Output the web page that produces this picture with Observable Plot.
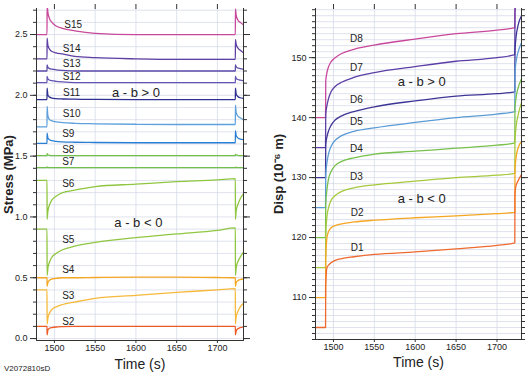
<!DOCTYPE html>
<html><head><meta charset="utf-8">
<script src="https://cdn.jsdelivr.net/npm/d3@7"></script>
<script src="https://cdn.jsdelivr.net/npm/@observablehq/plot@0.6"></script>
<style>
body{margin:0;background:#fff;}
#wrap{position:relative;width:531px;height:375px;font-family:"Liberation Sans",Arial,sans-serif;overflow:hidden;}
#left{position:absolute;left:0;top:0;}
#right{position:absolute;left:270px;top:0;}
#cap{position:absolute;left:4px;top:364px;font-size:8px;color:#222;}
</style></head><body>
<div id="wrap"><div id="left"></div><div id="right"></div><div id="cap">V2072810sD</div></div>
<script>
// ---------- data: stress panel ----------
const stressTime = [1478, 1490.9, 1491, 1492, 1494, 1497, 1502, 1510, 1525, 1550, 1600, 1650, 1700, 1722, 1722.1, 1723, 1725, 1728, 1732];
const S15 = [2.5, 2.5, 2.74, 2.68, 2.63, 2.6, 2.57, 2.55, 2.53, 2.51, 2.5, 2.5, 2.5, 2.5, 2.71, 2.66, 2.62, 2.6, 2.58];
const S14 = [2.3, 2.3, 2.47, 2.41, 2.38, 2.36, 2.35, 2.34, 2.32, 2.31, 2.3, 2.295, 2.295, 2.295, 2.46, 2.42, 2.39, 2.37, 2.35];
const S13 = [2.2, 2.2, 2.25, 2.23, 2.22, 2.215, 2.21, 2.205, 2.2, 2.2, 2.2, 2.2, 2.2, 2.2, 2.25, 2.235, 2.225, 2.22, 2.215];
const S12 = [2.105, 2.105, 2.155, 2.135, 2.125, 2.12, 2.115, 2.11, 2.105, 2.105, 2.105, 2.105, 2.105, 2.105, 2.155, 2.14, 2.13, 2.125, 2.12];
const S11 = [1.965, 1.965, 2.06, 2.0, 1.985, 1.978, 1.973, 1.97, 1.968, 1.966, 1.965, 1.965, 1.965, 1.965, 2.06, 2.01, 1.99, 1.98, 1.975];
const S10 = [1.74, 1.74, 1.91, 1.83, 1.8, 1.79, 1.782, 1.776, 1.77, 1.766, 1.762, 1.76, 1.76, 1.76, 1.92, 1.86, 1.83, 1.815, 1.8];
const S9  = [1.605, 1.605, 1.69, 1.65, 1.635, 1.627, 1.621, 1.617, 1.614, 1.612, 1.61, 1.61, 1.61, 1.61, 1.71, 1.67, 1.65, 1.64, 1.635];
const S8  = [1.505, 1.505, 1.52, 1.51, 1.507, 1.505, 1.505, 1.505, 1.505, 1.505, 1.505, 1.505, 1.505, 1.505, 1.515, 1.51, 1.507, 1.505, 1.505];
const S7  = [1.405, 1.405, 1.412, 1.407, 1.405, 1.405, 1.405, 1.405, 1.405, 1.405, 1.405, 1.405, 1.405, 1.405, 1.41, 1.407, 1.405, 1.405, 1.405];
const S6  = [1.3, 1.3, 0.98, 1.05, 1.1, 1.14, 1.17, 1.2, 1.22, 1.25, 1.27, 1.29, 1.305, 1.315, 0.98, 1.05, 1.1, 1.15, 1.19];
const S5  = [0.9, 0.9, 0.52, 0.58, 0.63, 0.67, 0.7, 0.73, 0.76, 0.79, 0.83, 0.86, 0.89, 0.91, 0.52, 0.58, 0.63, 0.67, 0.71];
const S4  = [0.5, 0.5, 0.43, 0.46, 0.48, 0.49, 0.495, 0.5, 0.5, 0.502, 0.505, 0.505, 0.502, 0.5, 0.43, 0.46, 0.475, 0.485, 0.49];
const S3  = [0.4, 0.4, 0.12, 0.17, 0.21, 0.24, 0.26, 0.28, 0.3, 0.33, 0.355, 0.38, 0.4, 0.41, 0.12, 0.18, 0.22, 0.26, 0.29];
const S2  = [0.1, 0.1, 0.03, 0.07, 0.085, 0.09, 0.095, 0.098, 0.1, 0.1, 0.1, 0.1, 0.1, 0.1, 0.03, 0.06, 0.08, 0.09, 0.095];
const stressNames  = ["S15","S14","S13","S12","S11","S10","S9","S8","S7","S6","S5","S4","S3","S2"];
const stressSeries = [S15, S14, S13, S12, S11, S10, S9, S8, S7, S6, S5, S4, S3, S2];
const stressColors = ["#c8489b","#5e3fa3","#5b4aa8","#6656b3","#2f3090","#5ea0dc","#2a7fd4","#72bf4c","#72bf4c","#8fc640","#8fc640","#f5a623","#f6b93b","#ee5a24"];
const stressLabelTime  = [1523, 1521, 1521, 1521, 1521, 1521, 1517, 1517, 1517, 1517, 1517, 1517, 1517, 1517];
const stressLabelValue = [2.58, 2.38, 2.26, 2.15, 2.02, 1.85, 1.68, 1.555, 1.455, 1.275, 0.81, 0.567, 0.354, 0.14];
const stressNotes = ["a - b > 0", "a - b < 0"];
const stressNoteTime = [1600, 1603];
const stressNoteValue = [2.02, 0.95];
const stressMajor = [0, 0.5, 1, 1.5, 2, 2.5];
const stressMinor = [0,0.1,0.2,0.3,0.4,0.5,0.6,0.7,0.8,0.9,1,1.1,1.2,1.3,1.4,1.5,1.6,1.7,1.8,1.9,2,2.1,2.2,2.3,2.4,2.5,2.6,2.7];

// ---------- data: displacement panel ----------
const dispTime = [1478, 1490.3, 1490.5, 1492, 1494, 1497, 1502, 1510, 1525, 1550, 1600, 1650, 1700, 1721.8, 1722, 1723, 1726, 1730];
const D8 = [140, 140, 146, 147.5, 148.5, 149.3, 150, 150.7, 151.4, 152.1, 153.1, 154, 154.6, 155, 158.5, 160, 162, 164];
const D7 = [135, 135, 140.5, 142, 143.2, 144.3, 145.2, 145.9, 146.7, 147.5, 148.5, 149.4, 150, 150.5, 157.5, 159, 161, 163];
const D6 = [130, 130, 135.5, 136.8, 137.8, 138.7, 139.6, 140.3, 141, 141.8, 142.8, 143.6, 144, 144.3, 151, 153, 155.5, 157];
const D5 = [125, 125, 130.5, 132.5, 134, 135.2, 136.2, 137, 137.7, 138.3, 139.2, 140, 140.6, 141, 147, 149, 151, 152.5];
const D4 = [120, 120, 125.5, 128, 129.8, 131, 132, 132.7, 133.3, 133.9, 134.4, 134.9, 135.4, 135.8, 141.5, 143, 145, 146.5];
const D3 = [115, 115, 120.5, 123.5, 125, 126.2, 127, 127.7, 128.3, 128.8, 129.4, 130, 130.4, 130.7, 136, 138, 140.5, 142.5];
const D2 = [110, 110, 116, 120, 121, 121.6, 122, 122.3, 122.6, 122.9, 123.3, 123.6, 124, 124.2, 131, 133, 135, 136];
const D1 = [105, 105, 112, 115, 115.4, 115.8, 116.2, 116.5, 116.8, 117.2, 117.6, 118.1, 118.7, 119.1, 127, 128.5, 129.5, 130.5];
const dispNames  = ["D8","D7","D6","D5","D4","D3","D2","D1"];
const dispSeries = [D8, D7, D6, D5, D4, D3, D2, D1];
const dispColors = ["#c8489b","#5b3fa6","#3d3596","#5b9bd5","#78c04c","#a6c93c","#f5a623","#ef6a2e"];
const dispLabelTime  = [1528, 1528, 1528, 1528, 1528, 1528, 1529, 1529];
const dispLabelValue = [153.2, 148.3, 143, 139.3, 134.8, 130.2, 124.2, 118.3];
const dispNotes = ["a - b > 0", "a - b < 0"];
const dispNoteTime = [1608, 1608];
const dispNoteValue = [146, 126.5];
const dispMajor = [110, 120, 130, 140, 150];
const dispMinor = d3.range(103, 159);

const timeTicks = [1500, 1550, 1600, 1650, 1700];

// ---------- styling ----------
const FONT = '"Liberation Sans", Arial, sans-serif';
const GRID = "#d3d7e6";
const AX = "#333";

function sideAxes(major, minor, fmt) {
  return [
    Plot.axisX(timeTicks, {anchor: "bottom", tickSize: 3, tickPadding: 1, tickFormat: "d", label: null, stroke: AX, fill: "#222"}),
    Plot.axisX(timeTicks, {anchor: "top", tickSize: 5, fill: "none", label: null, stroke: AX}),
    Plot.axisY(major, {anchor: "left", tickSize: 6, tickPadding: 3, tickFormat: fmt, label: null, stroke: AX, fill: "#222"}),
    Plot.axisY(minor, {anchor: "left", tickSize: 3, fill: "none", label: null, stroke: AX}),
    Plot.axisY(major, {anchor: "right", tickSize: 6, fill: "none", label: null, stroke: AX}),
    Plot.axisY(minor, {anchor: "right", tickSize: 3, fill: "none", label: null, stroke: AX}),
    Plot.frame({anchor: "left", stroke: AX}),
    Plot.frame({anchor: "right", stroke: AX}),
    Plot.frame({anchor: "bottom", stroke: AX})
  ];
}

const left = Plot.plot({
  width: 270, height: 375,
  marginLeft: 36, marginRight: 27, marginTop: 8, marginBottom: 35,
  style: {fontFamily: FONT, fontSize: "9px", color: "#222", background: "white"},
  x: {domain: [1478, 1732], axis: null},
  y: {domain: [-0.016, 2.714], axis: null},
  marks: [
    Plot.gridY(stressMinor, {stroke: GRID, strokeOpacity: 1, strokeWidth: 0.7}),
    Plot.gridX(timeTicks, {stroke: GRID, strokeOpacity: 1, strokeWidth: 0.7}),
    ...stressSeries.map((s, i) => Plot.line(stressTime, {x: stressTime, y: s, stroke: stressColors[i], strokeWidth: 1.3, curve: "monotone-x", clip: true})),
    Plot.text(stressNames, {x: stressLabelTime, y: stressLabelValue, text: stressNames, fontSize: 10, fill: "#222"}),
    Plot.text(stressNotes, {x: stressNoteTime, y: stressNoteValue, text: stressNotes, fontSize: 13, fill: "#222"}),
    ...sideAxes(stressMajor, stressMinor, ".1f"),
    Plot.text(["Stress (MPa)"], {frameAnchor: "left", dx: -28, rotate: -90, textAnchor: "middle", lineAnchor: "middle", fontSize: 13, fontWeight: "bold", fill: "#222"}),
    Plot.text(["Time (s)"], {frameAnchor: "bottom", dy: 24, textAnchor: "middle", lineAnchor: "middle", fontSize: 14, fill: "#222"})
  ]
});
document.getElementById("left").append(left);

const right = Plot.plot({
  width: 261, height: 375,
  marginLeft: 45, marginRight: 10, marginTop: 8, marginBottom: 36,
  style: {fontFamily: FONT, fontSize: "9px", color: "#222", background: "white"},
  x: {domain: [1478, 1730], axis: null},
  y: {domain: [103, 158.2], axis: null},
  marks: [
    Plot.gridY(dispMinor, {stroke: GRID, strokeOpacity: 1, strokeWidth: 0.7}),
    Plot.gridX(timeTicks, {stroke: GRID, strokeOpacity: 1, strokeWidth: 0.7}),
    ...dispSeries.map((s, i) => Plot.line(dispTime, {x: dispTime, y: s, stroke: dispColors[i], strokeWidth: 1.3, curve: "monotone-x", clip: true})),
    Plot.text(dispNames, {x: dispLabelTime, y: dispLabelValue, text: dispNames, fontSize: 10, fill: "#222"}),
    Plot.text(dispNotes, {x: dispNoteTime, y: dispNoteValue, text: dispNotes, fontSize: 13, fill: "#222"}),
    ...sideAxes(dispMajor, dispMinor, "d"),
    Plot.text(["Disp (10⁻⁶ m)"], {frameAnchor: "left", dx: -37, rotate: -90, textAnchor: "middle", lineAnchor: "middle", fontSize: 13, fontWeight: "bold", fill: "#222"}),
    Plot.text(["Time (s)"], {frameAnchor: "bottom", dy: 23, textAnchor: "middle", lineAnchor: "middle", fontSize: 14, fill: "#222"})
  ]
});
document.getElementById("right").append(right);
</script>
</body></html>
